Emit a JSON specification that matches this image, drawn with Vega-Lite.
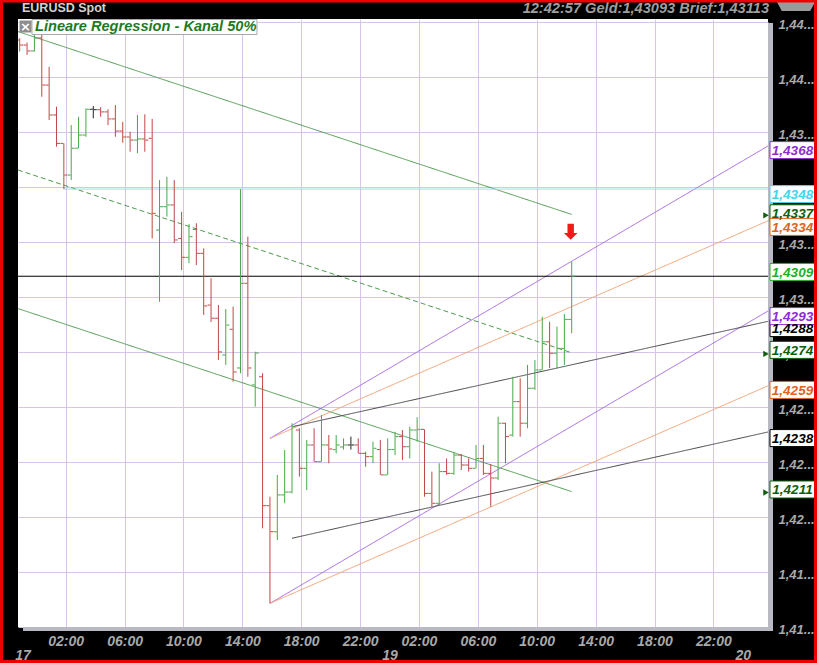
{
  "$schema": "https://vega.github.io/schema/vega-lite/v6.json",
  "width": 750,
  "height": 608,
  "autosize": {"type": "none"},
  "padding": {"left": 18, "top": 19, "right": 49, "bottom": 36},
  "background": "#000000",
  "config": {
    "view": {"fill": "#ffffff", "stroke": null},
    "font": "Liberation Sans",
    "axis": {"domain": false, "ticks": false, "title": null, "gridColor": "#d6c4ec", "gridWidth": 1, "gridOpacity": 1,
      "labelFont": "Liberation Sans", "labelFontStyle": "italic", "labelFontWeight": "bold", "labelColor": "#a9a9a9",
      "labelFlush": false, "labelOverlap": false, "labelBound": false}
  },
  "datasets": {
    "bars": [
      {"t": -1.125, "o": 1.44167, "h": 1.44175, "l": 1.44114, "c": 1.44144, "d": "d"},
      {"t": -0.625, "o": 1.44144, "h": 1.44155, "l": 1.44099, "c": 1.44117, "d": "d"},
      {"t": -0.125, "o": 1.44117, "h": 1.4419, "l": 1.44114, "c": 1.44176, "d": "u"},
      {"t": 0.375, "o": 1.44176, "h": 1.4419, "l": 1.43909, "c": 1.43962, "d": "d"},
      {"t": 0.875, "o": 1.43962, "h": 1.44045, "l": 1.43803, "c": 1.43826, "d": "d"},
      {"t": 1.375, "o": 1.43826, "h": 1.43864, "l": 1.43682, "c": 1.43697, "d": "d"},
      {"t": 1.875, "o": 1.43697, "h": 1.43697, "l": 1.43489, "c": 1.43553, "d": "d"},
      {"t": 2.375, "o": 1.43553, "h": 1.4378, "l": 1.4353, "c": 1.43675, "d": "u"},
      {"t": 2.875, "o": 1.43675, "h": 1.43818, "l": 1.43675, "c": 1.43735, "d": "u"},
      {"t": 3.375, "o": 1.43735, "h": 1.43856, "l": 1.43727, "c": 1.43852, "d": "u"},
      {"t": 3.875, "o": 1.43852, "h": 1.43867, "l": 1.43811, "c": 1.4385, "d": "f"},
      {"t": 4.375, "o": 1.4385, "h": 1.43861, "l": 1.43818, "c": 1.4384, "d": "d"},
      {"t": 4.875, "o": 1.4384, "h": 1.43852, "l": 1.4378, "c": 1.43808, "d": "d"},
      {"t": 5.375, "o": 1.43808, "h": 1.43871, "l": 1.43727, "c": 1.43753, "d": "d"},
      {"t": 5.875, "o": 1.43753, "h": 1.43795, "l": 1.437, "c": 1.43726, "d": "d"},
      {"t": 6.375, "o": 1.43726, "h": 1.4375, "l": 1.43659, "c": 1.43712, "d": "d"},
      {"t": 6.875, "o": 1.43712, "h": 1.43826, "l": 1.43652, "c": 1.43717, "d": "u"},
      {"t": 7.375, "o": 1.43717, "h": 1.43829, "l": 1.43659, "c": 1.43712, "d": "d"},
      {"t": 7.875, "o": 1.4372, "h": 1.43808, "l": 1.43265, "c": 1.43379, "d": "d"},
      {"t": 8.375, "o": 1.43303, "h": 1.4353, "l": 1.42977, "c": 1.43409, "d": "u"},
      {"t": 8.875, "o": 1.43409, "h": 1.43545, "l": 1.43364, "c": 1.43417, "d": "u"},
      {"t": 9.375, "o": 1.43417, "h": 1.4353, "l": 1.43243, "c": 1.43258, "d": "d"},
      {"t": 9.875, "o": 1.43265, "h": 1.43386, "l": 1.43121, "c": 1.43179, "d": "d"},
      {"t": 10.375, "o": 1.43179, "h": 1.4333, "l": 1.43152, "c": 1.43273, "d": "u"},
      {"t": 10.875, "o": 1.43306, "h": 1.43334, "l": 1.43144, "c": 1.43197, "d": "d"},
      {"t": 11.375, "o": 1.43197, "h": 1.4322, "l": 1.42917, "c": 1.42958, "d": "d"},
      {"t": 11.875, "o": 1.42962, "h": 1.43084, "l": 1.42885, "c": 1.42902, "d": "d"},
      {"t": 12.375, "o": 1.42902, "h": 1.42962, "l": 1.42712, "c": 1.42749, "d": "d"},
      {"t": 12.875, "o": 1.42735, "h": 1.42944, "l": 1.4269, "c": 1.42871, "d": "u"},
      {"t": 13.375, "o": 1.42852, "h": 1.42955, "l": 1.42614, "c": 1.42658, "d": "d"},
      {"t": 13.875, "o": 1.42676, "h": 1.43489, "l": 1.42652, "c": 1.43061, "d": "u"},
      {"t": 14.375, "o": 1.43061, "h": 1.43273, "l": 1.42636, "c": 1.42676, "d": "d"},
      {"t": 14.875, "o": 1.42599, "h": 1.4275, "l": 1.425, "c": 1.42744, "d": "u"},
      {"t": 15.375, "o": 1.42636, "h": 1.42652, "l": 1.41947, "c": 1.4205, "d": "d"},
      {"t": 15.875, "o": 1.4205, "h": 1.42091, "l": 1.41606, "c": 1.41932, "d": "d"},
      {"t": 16.375, "o": 1.41932, "h": 1.4219, "l": 1.41894, "c": 1.42099, "d": "u"},
      {"t": 16.875, "o": 1.42099, "h": 1.42303, "l": 1.42061, "c": 1.42112, "d": "u"},
      {"t": 17.375, "o": 1.42112, "h": 1.42425, "l": 1.42106, "c": 1.42409, "d": "u"},
      {"t": 17.875, "o": 1.42394, "h": 1.42402, "l": 1.42182, "c": 1.4222, "d": "d"},
      {"t": 18.375, "o": 1.4222, "h": 1.42349, "l": 1.42121, "c": 1.42326, "d": "u"},
      {"t": 18.875, "o": 1.42326, "h": 1.42402, "l": 1.4225, "c": 1.4225, "d": "d"},
      {"t": 19.375, "o": 1.4225, "h": 1.42462, "l": 1.4225, "c": 1.42326, "d": "u"},
      {"t": 19.875, "o": 1.42326, "h": 1.42371, "l": 1.42243, "c": 1.42308, "d": "d"},
      {"t": 20.375, "o": 1.42305, "h": 1.42371, "l": 1.42288, "c": 1.42326, "d": "u"},
      {"t": 20.875, "o": 1.42317, "h": 1.42356, "l": 1.42305, "c": 1.42326, "d": "u"},
      {"t": 21.375, "o": 1.42326, "h": 1.42364, "l": 1.42305, "c": 1.42326, "d": "f"},
      {"t": 21.875, "o": 1.42326, "h": 1.42356, "l": 1.42288, "c": 1.42288, "d": "d"},
      {"t": 22.375, "o": 1.42288, "h": 1.42295, "l": 1.42227, "c": 1.42273, "d": "d"},
      {"t": 22.875, "o": 1.42273, "h": 1.42341, "l": 1.42243, "c": 1.42311, "d": "u"},
      {"t": 23.375, "o": 1.42305, "h": 1.42349, "l": 1.4219, "c": 1.4219, "d": "d"},
      {"t": 23.875, "o": 1.4219, "h": 1.42356, "l": 1.4219, "c": 1.42305, "d": "u"},
      {"t": 24.375, "o": 1.42305, "h": 1.42386, "l": 1.4228, "c": 1.42364, "d": "u"},
      {"t": 24.875, "o": 1.42364, "h": 1.42394, "l": 1.42258, "c": 1.42318, "d": "d"},
      {"t": 25.375, "o": 1.42318, "h": 1.42409, "l": 1.42265, "c": 1.42394, "d": "u"},
      {"t": 25.875, "o": 1.42394, "h": 1.42452, "l": 1.42341, "c": 1.42397, "d": "u"},
      {"t": 26.375, "o": 1.42397, "h": 1.42397, "l": 1.42091, "c": 1.42106, "d": "d"},
      {"t": 26.875, "o": 1.42106, "h": 1.42205, "l": 1.42045, "c": 1.42061, "d": "d"},
      {"t": 27.375, "o": 1.42061, "h": 1.42243, "l": 1.42053, "c": 1.42205, "d": "u"},
      {"t": 27.875, "o": 1.42205, "h": 1.42265, "l": 1.4219, "c": 1.42197, "d": "d"},
      {"t": 28.375, "o": 1.42197, "h": 1.42295, "l": 1.4219, "c": 1.4228, "d": "u"},
      {"t": 28.875, "o": 1.4228, "h": 1.42285, "l": 1.42212, "c": 1.42235, "d": "d"},
      {"t": 29.375, "o": 1.42235, "h": 1.42265, "l": 1.42205, "c": 1.4222, "d": "d"},
      {"t": 29.875, "o": 1.4222, "h": 1.42326, "l": 1.4222, "c": 1.42265, "d": "u"},
      {"t": 30.375, "o": 1.42265, "h": 1.42326, "l": 1.4219, "c": 1.42197, "d": "d"},
      {"t": 30.875, "o": 1.42197, "h": 1.4224, "l": 1.42045, "c": 1.42176, "d": "d"},
      {"t": 31.375, "o": 1.42176, "h": 1.42455, "l": 1.42167, "c": 1.42425, "d": "u"},
      {"t": 31.875, "o": 1.42425, "h": 1.42427, "l": 1.42243, "c": 1.42364, "d": "d"},
      {"t": 32.375, "o": 1.42371, "h": 1.42636, "l": 1.42364, "c": 1.42523, "d": "u"},
      {"t": 32.875, "o": 1.42523, "h": 1.42629, "l": 1.42364, "c": 1.42425, "d": "d"},
      {"t": 33.375, "o": 1.42425, "h": 1.4269, "l": 1.42402, "c": 1.42584, "d": "u"},
      {"t": 33.875, "o": 1.42584, "h": 1.42712, "l": 1.42576, "c": 1.42667, "d": "u"},
      {"t": 34.375, "o": 1.42667, "h": 1.42909, "l": 1.42667, "c": 1.42795, "d": "u"},
      {"t": 34.875, "o": 1.42795, "h": 1.42886, "l": 1.42675, "c": 1.42743, "d": "d"},
      {"t": 35.375, "o": 1.42743, "h": 1.42864, "l": 1.42675, "c": 1.42765, "d": "u"},
      {"t": 35.875, "o": 1.42765, "h": 1.42921, "l": 1.4269, "c": 1.42897, "d": "u"},
      {"t": 36.375, "o": 1.42897, "h": 1.43159, "l": 1.42834, "c": 1.43093, "d": "u"}
    ],
    "lines": [
      {"id": "g1", "k": "green", "t": -1.24, "p": 1.44205}, {"id": "g1", "k": "green", "t": 36.375, "p": 1.43374},
      {"id": "g2", "k": "greendash", "t": -1.24, "p": 1.43576}, {"id": "g2", "k": "greendash", "t": 36.375, "p": 1.42745},
      {"id": "g3", "k": "green", "t": -1.24, "p": 1.42946}, {"id": "g3", "k": "green", "t": 36.375, "p": 1.42114},
      {"id": "p1", "k": "purple", "t": 15.875, "p": 1.42356}, {"id": "p1", "k": "purple", "t": 49.71, "p": 1.43685},
      {"id": "p2", "k": "purple", "t": 15.875, "p": 1.41606}, {"id": "p2", "k": "purple", "t": 49.71, "p": 1.42935},
      {"id": "o1", "k": "orange", "t": 15.875, "p": 1.42356}, {"id": "o1", "k": "orange", "t": 49.71, "p": 1.43345},
      {"id": "o2", "k": "orange", "t": 15.875, "p": 1.41606}, {"id": "o2", "k": "orange", "t": 49.71, "p": 1.42595},
      {"id": "b1", "k": "black", "t": 17.375, "p": 1.42409}, {"id": "b1", "k": "black", "t": 49.71, "p": 1.42888},
      {"id": "b2", "k": "black", "t": 17.375, "p": 1.41902}, {"id": "b2", "k": "black", "t": 49.71, "p": 1.42385},
      {"id": "c1", "k": "cyan", "t": 1.875, "p": 1.43489}, {"id": "c1", "k": "cyan", "t": 49.71, "p": 1.43489},
      {"id": "q1", "k": "bid", "t": -1.24, "p": 1.43093}, {"id": "q1", "k": "bid", "t": 49.71, "p": 1.43093}
    ],
    "tags": [
      {"lbl": "1,4368", "p": 1.4368, "s": "purple"},
      {"lbl": "1,4348", "p": 1.4348, "s": "cyan"},
      {"lbl": "1,4337", "p": 1.4337, "s": "dkgreen"},
      {"lbl": "1,4334", "p": 1.4334, "s": "orange"},
      {"lbl": "1,4309", "p": 1.4309, "s": "green"},
      {"lbl": "1,4288", "p": 1.4288, "s": "black"},
      {"lbl": "1,4293", "p": 1.4293, "s": "purple"},
      {"lbl": "1,4274", "p": 1.4274, "s": "dkgreen"},
      {"lbl": "1,4259", "p": 1.4259, "s": "orange"},
      {"lbl": "1,4238", "p": 1.4238, "s": "black"},
      {"lbl": "1,4211", "p": 1.4211, "s": "dkgreen"}
    ]
  },
  "layer": [
    {
      "data": {"name": "lines"},
      "mark": {"type": "line", "clip": true},
      "encoding": {
        "x": {"field": "t", "type": "quantitative", "scale": {"domain": [-1.24, 49.71], "nice": false, "zero": false},
          "axis": {"orient": "bottom", "values": [-0.934, 24, 48], "grid": false, "labelPadding": 21, "labelBaseline": "top", "labelFontSize": 14,
            "labelExpr": "datum.value < 0 ? '17' : (datum.value < 30 ? '19' : '20')"}},
        "y": {"field": "p", "type": "quantitative", "scale": {"domain": [1.414986, 1.442623], "nice": false, "zero": false}, "axis": null},
        "detail": {"field": "id"},
        "color": {"field": "k", "type": "nominal", "legend": null,
          "scale": {"domain": ["green", "greendash", "purple", "orange", "black", "cyan", "bid"],
            "range": ["#4f9a4f", "#4f9a4f", "#a466e2", "#f2a274", "#464646", "#86e4f0", "#000000"]}},
        "strokeDash": {"field": "k", "type": "nominal", "legend": null,
          "scale": {"domain": ["green", "greendash", "purple", "orange", "black", "cyan", "bid"],
            "range": [[1, 0], [5, 3], [1, 0], [1, 0], [1, 0], [1, 0], [1, 0]]}},
        "strokeWidth": {"field": "k", "type": "nominal", "legend": null,
          "scale": {"domain": ["green", "greendash", "purple", "orange", "black", "cyan", "bid"],
            "range": [1, 1, 1, 1, 1, 2, 1.4]}}
      }
    },
    {
      "data": {"name": "bars"},
      "mark": {"type": "rule", "strokeWidth": 1, "clip": true},
      "encoding": {
        "x": {"field": "t", "type": "quantitative", "scale": {"domain": [-1.24, 49.71], "nice": false, "zero": false},
          "axis": {"orient": "bottom", "values": [2, 6, 10, 14, 18, 22, 26, 30, 34, 38, 42, 46], "grid": true, "labelPadding": 7, "labelBaseline": "top", "labelFontSize": 14,
            "labelExpr": "(datum.value % 24 < 10 ? '0' : '') + (datum.value % 24) + ':00'"}},
        "y": {"field": "h", "type": "quantitative", "scale": {"domain": [1.414986, 1.442623], "nice": false, "zero": false},
          "axis": {"orient": "right", "values": [1.415, 1.4175, 1.42, 1.4225, 1.425, 1.4275, 1.43, 1.4325, 1.435, 1.4375, 1.44, 1.4425], "grid": true,
            "labelPadding": 10, "labelAlign": "left", "labelBaseline": "middle", "labelOffset": 3, "labelFontSize": 13,
            "labelExpr": "replace(format(floor(datum.value * 100 + 0.0001) / 100, '.2f'), '.', ',') + '...'"}},
        "y2": {"field": "l"},
        "color": {"field": "d", "type": "nominal", "legend": null, "scale": {"domain": ["u", "d", "f"], "range": ["#46a846", "#c24646", "#222222"]}}
      }
    },
    {
      "data": {"name": "bars"},
      "mark": {"type": "tick", "orient": "horizontal", "size": 3, "thickness": 1, "xOffset": -2, "opacity": 1, "clip": true},
      "encoding": {
        "x": {"field": "t", "type": "quantitative", "axis": null},
        "y": {"field": "o", "type": "quantitative", "axis": null},
        "color": {"field": "d", "type": "nominal", "legend": null, "scale": {"domain": ["u", "d", "f"], "range": ["#46a846", "#c24646", "#222222"]}}
      }
    },
    {
      "data": {"name": "bars"},
      "mark": {"type": "tick", "orient": "horizontal", "size": 3, "thickness": 1, "xOffset": 2, "opacity": 1, "clip": true},
      "encoding": {
        "x": {"field": "t", "type": "quantitative", "axis": null},
        "y": {"field": "c", "type": "quantitative", "axis": null},
        "color": {"field": "d", "type": "nominal", "legend": null, "scale": {"domain": ["u", "d", "f"], "range": ["#46a846", "#c24646", "#222222"]}}
      }
    },
    {
      "data": {"values": [{"t": 36.307, "p": 1.43295}]},
      "mark": {"type": "point", "shape": "M-0.4,-1L0.4,-1L0.4,0.15L0.85,0.15L0,1L-0.85,0.15L-0.4,0.15Z", "size": 256, "filled": true, "fill": "#ee1b1b", "opacity": 1, "strokeWidth": 0},
      "encoding": {
        "x": {"field": "t", "type": "quantitative", "axis": null},
        "y": {"field": "p", "type": "quantitative", "axis": null}
      }
    },
    {
      "data": {"values": [{"x1": 49.71, "x2": 50.05, "y1": 1.442441, "y2": 1.414805}, {"x1": -0.9, "x2": 50.05, "y1": 1.414987, "y2": 1.414805}]},
      "mark": {"type": "rect", "fill": "#b9b9c3"},
      "encoding": {
        "x": {"field": "x1", "type": "quantitative", "axis": null},
        "x2": {"field": "x2"},
        "y": {"field": "y1", "type": "quantitative", "axis": null},
        "y2": {"field": "y2"}
      }
    },
    {
      "data": {"name": "tags"},
      "mark": {"type": "point", "shape": "M-1,-0.378L1,-0.378L1,0.378L-1,0.378Z", "size": 2025, "filled": true, "fill": "#ffffff", "opacity": 1, "strokeWidth": 1,
        "yOffset": {"expr": "datum.lbl == '1,4368' ? 3 : datum.lbl == '1,4348' ? 3 : datum.lbl == '1,4337' ? -2 : datum.lbl == '1,4334' ? 5 : datum.lbl == '1,4309' ? -5 : datum.lbl == '1,4293' ? 4 : datum.lbl == '1,4288' ? 5 : datum.lbl == '1,4274' ? -4 : datum.lbl == '1,4259' ? 3 : datum.lbl == '1,4238' ? 5 : -3"}},
      "encoding": {
        "x": {"datum": 51.374, "type": "quantitative", "axis": null},
        "y": {"field": "p", "type": "quantitative", "axis": null},
        "stroke": {"field": "s", "type": "nominal", "legend": null,
          "scale": {"domain": ["purple", "cyan", "dkgreen", "orange", "green", "black"], "range": ["#8e2ed2", "#3fd6ee", "#0e5e0e", "#e0641c", "#22b022", "#000000"]}}
      }
    },
    {
      "data": {"name": "tags"},
      "mark": {"type": "text", "font": "Liberation Sans", "fontSize": 13.5, "fontStyle": "italic", "fontWeight": "bold", "align": "center", "baseline": "middle", "dy": 1,
        "yOffset": {"expr": "datum.lbl == '1,4368' ? 3 : datum.lbl == '1,4348' ? 3 : datum.lbl == '1,4337' ? -2 : datum.lbl == '1,4334' ? 5 : datum.lbl == '1,4309' ? -5 : datum.lbl == '1,4293' ? 4 : datum.lbl == '1,4288' ? 5 : datum.lbl == '1,4274' ? -4 : datum.lbl == '1,4259' ? 3 : datum.lbl == '1,4238' ? 5 : -3"}},
      "encoding": {
        "x": {"datum": 51.374, "type": "quantitative", "axis": null},
        "y": {"field": "p", "type": "quantitative", "axis": null},
        "text": {"field": "lbl"},
        "color": {"field": "s", "type": "nominal", "legend": null,
          "scale": {"domain": ["purple", "cyan", "dkgreen", "orange", "green", "black"], "range": ["#8e2ed2", "#3fd6ee", "#0e5e0e", "#e0641c", "#22b022", "#000000"]}}
      }
    },
    {
      "data": {"name": "tags"},
      "transform": [{"filter": "datum.s == 'dkgreen'"}],
      "mark": {"type": "point", "shape": "triangle-right", "size": 40, "filled": true, "fill": "#125e12", "opacity": 1, "strokeWidth": 0},
      "encoding": {
        "x": {"datum": 49.574, "type": "quantitative", "axis": null},
        "y": {"field": "p", "type": "quantitative", "axis": null}
      }
    },
    {
      "data": {"values": [{"x1": -0.289, "x2": 14.996, "y1": 1.4426, "y2": 1.441918}]},
      "mark": {"type": "rect", "fill": "#ffffff", "stroke": "#a8a8a8", "strokeWidth": 1},
      "encoding": {
        "x": {"field": "x1", "type": "quantitative", "axis": null},
        "x2": {"field": "x2"},
        "y": {"field": "y1", "type": "quantitative", "axis": null},
        "y2": {"field": "y2"}
      }
    },
    {
      "data": {"values": [{"x1": -1.138, "x2": -0.323, "y1": 1.442555, "y2": 1.442009}]},
      "mark": {"type": "rect", "fill": "#8e8e8e"},
      "encoding": {
        "x": {"field": "x1", "type": "quantitative", "axis": null},
        "x2": {"field": "x2"},
        "y": {"field": "y1", "type": "quantitative", "axis": null},
        "y2": {"field": "y2"}
      }
    },
    {
      "data": {"values": [{"t": -0.731, "p": 1.442282, "label": "×"}]},
      "mark": {"type": "text", "font": "DejaVu Sans", "fontSize": 13, "fontWeight": "bold", "color": "#ffffff", "align": "center", "baseline": "middle"},
      "encoding": {
        "x": {"field": "t", "type": "quantitative", "axis": null},
        "y": {"field": "p", "type": "quantitative", "axis": null},
        "text": {"field": "label"}
      }
    },
    {
      "data": {"values": [{"t": -0.085, "p": 1.442259, "label": "Lineare Regression - Kanal 50%"}]},
      "mark": {"type": "text", "font": "Liberation Sans", "fontSize": 14.6, "fontStyle": "italic", "fontWeight": "bold", "color": "#1f7a1f", "align": "left", "baseline": "middle"},
      "encoding": {
        "x": {"field": "t", "type": "quantitative", "axis": null},
        "y": {"field": "p", "type": "quantitative", "axis": null},
        "text": {"field": "label"}
      }
    },
    {
      "data": {"values": [{"t": -0.968, "p": 1.442928, "label": "EURUSD Spot"}]},
      "mark": {"type": "text", "font": "Liberation Sans", "fontSize": 12.5, "fontWeight": "bold", "color": "#d2d2d2", "align": "left", "baseline": "alphabetic"},
      "encoding": {
        "x": {"field": "t", "type": "quantitative", "axis": null},
        "y": {"field": "p", "type": "quantitative", "axis": null},
        "text": {"field": "label"}
      }
    },
    {
      "data": {"values": [{"t": 49.778, "p": 1.443078, "label": "12:42:57  Geld:1,43093  Brief:1,43113"}]},
      "mark": {"type": "text", "font": "Liberation Sans", "fontSize": 14.6, "fontStyle": "italic", "fontWeight": "bold", "color": "#9e9e9e", "align": "right", "baseline": "middle"},
      "encoding": {
        "x": {"field": "t", "type": "quantitative", "axis": null},
        "y": {"field": "p", "type": "quantitative", "axis": null},
        "text": {"field": "label"}
      }
    },
    {
      "data": {"values": [{"t": 51.612, "p": 1.443191}]},
      "mark": {"type": "point", "shape": "M-1,-0.24L1,-0.24L0.75,0.24L-0.75,0.24Z", "size": 1444, "filled": true, "fill": "#9a9a9a", "opacity": 1, "strokeWidth": 0},
      "encoding": {
        "x": {"field": "t", "type": "quantitative", "axis": null},
        "y": {"field": "p", "type": "quantitative", "axis": null}
      }
    },
    {
      "data": {"values": [{"x1": -2.3609, "x2": 52.937, "y1": 1.443441, "y2": 1.413418}]},
      "mark": {"type": "rect", "fillOpacity": 0, "stroke": "#ee0000", "strokeWidth": 3},
      "encoding": {
        "x": {"field": "x1", "type": "quantitative", "axis": null},
        "x2": {"field": "x2"},
        "y": {"field": "y1", "type": "quantitative", "axis": null},
        "y2": {"field": "y2"}
      }
    }
  ],
  "resolve": {
    "scale": {"color": "independent", "stroke": "independent", "strokeDash": "independent", "strokeWidth": "independent"},
    "axis": {"x": "independent", "y": "independent"}
  }
}
